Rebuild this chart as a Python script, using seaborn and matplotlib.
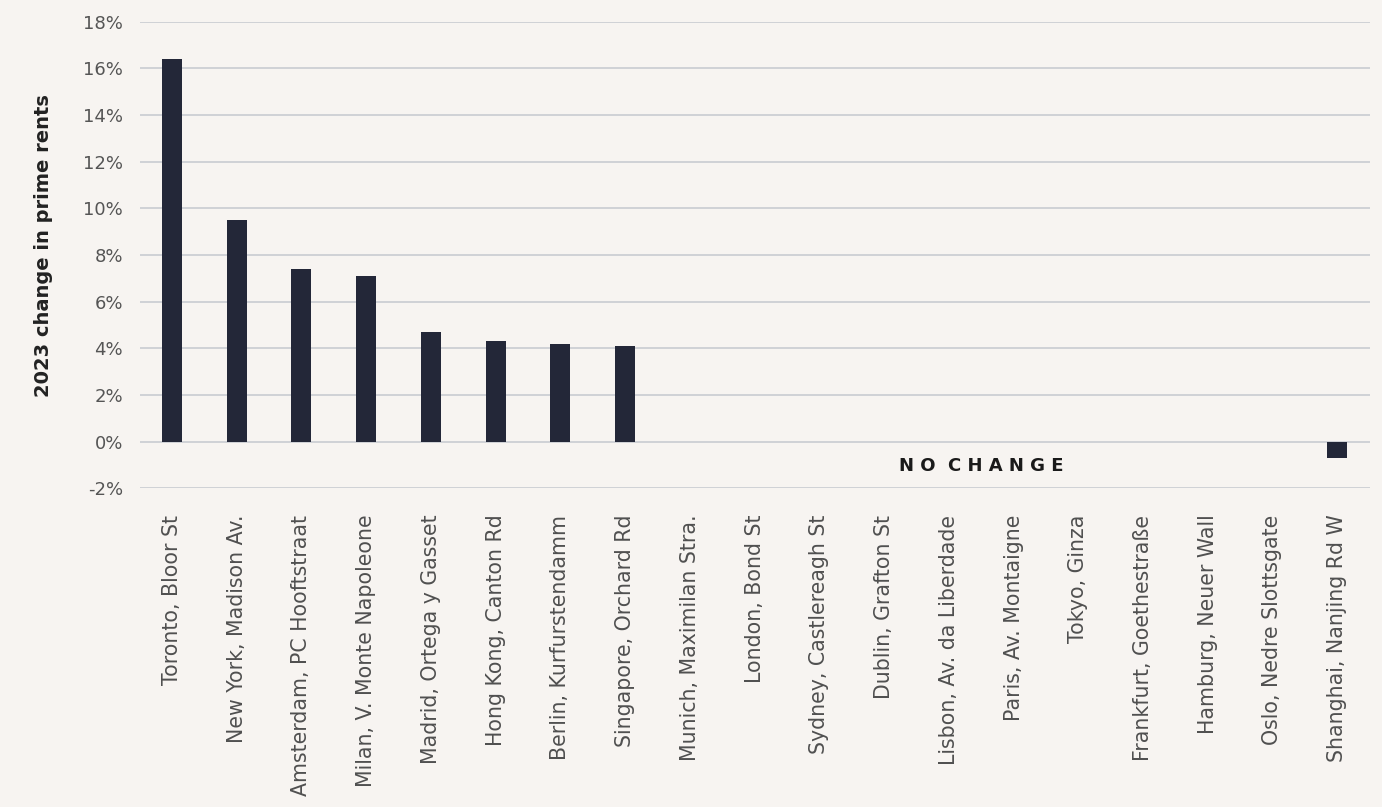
import matplotlib
matplotlib.use("Agg")
import matplotlib.pyplot as plt
import seaborn as sns
import pandas as pd
from matplotlib.ticker import FuncFormatter, MultipleLocator

categories = [
    "Toronto, Bloor St", "New York, Madison Av.", "Amsterdam, PC Hooftstraat",
    "Milan, V. Monte Napoleone", "Madrid, Ortega y Gasset", "Hong Kong, Canton Rd",
    "Berlin, Kurfurstendamm", "Singapore, Orchard Rd", "Munich, Maximilan Stra.",
    "London, Bond St", "Sydney, Castlereagh St", "Dublin, Grafton St",
    "Lisbon, Av. da Liberdade", "Paris, Av. Montaigne", "Tokyo, Ginza",
    "Frankfurt, Goethestraße", "Hamburg, Neuer Wall", "Oslo, Nedre Slottsgate",
    "Shanghai, Nanjing Rd W",
]
values = [16.4, 9.5, 7.4, 7.1, 4.7, 4.3, 4.2, 4.1, 0, 0, 0, 0, 0, 0, 0, 0, 0, 0, -0.7]
annotation_text = "N O  C H A N G E"
y_label = "2023 change in prime rents"

BG = "#f7f4f1"
BAR = "#232738"
GRID = "#c9ccd1"

sns.set_theme(style="white")
plt.rcParams["font.family"] = ["DejaVu Sans"]

df = pd.DataFrame({"loc": categories, "val": values})

fig = plt.figure(figsize=(13.82, 8.07), dpi=100, facecolor=BG)
ax = fig.add_axes([0.101, 0.395, 0.890, 0.578])
ax.set_facecolor(BG)

sns.barplot(data=df, x="loc", y="val", color=BAR, width=0.31, ax=ax,
            linewidth=0, saturation=1)

ax.set_xlim(-0.5, 18.5)
ax.set_ylim(-2, 18)
ax.yaxis.set_major_locator(MultipleLocator(2))
ax.yaxis.set_major_formatter(FuncFormatter(lambda v, p: f"{v:.0f}%"))
ax.grid(axis="y", color=GRID, linewidth=1.2)
ax.set_axisbelow(True)
for s in ax.spines.values():
    s.set_visible(False)

ax.tick_params(axis="both", length=0)
ax.tick_params(axis="y", labelsize=13, labelcolor="#555555", pad=12)
ax.tick_params(axis="x", labelsize=14.8, labelcolor="#505050", pad=19)
plt.setp(ax.get_xticklabels(), rotation=90)

ax.set_xlabel("")
ax.set_ylabel(y_label, fontsize=14, fontweight="bold", color="#222222")
ax.yaxis.set_label_coords(-0.07, 0.52)

ax.text(12.5, -1.03, annotation_text, ha="center", va="center",
        fontsize=13, fontweight="bold", color="#1a1a1a")

fig.savefig("out.png", dpi=100, facecolor=BG)
